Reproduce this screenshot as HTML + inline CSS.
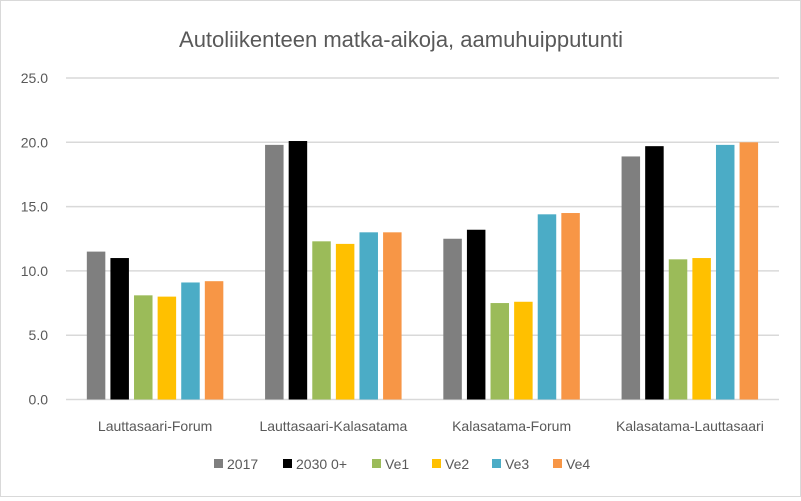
<!DOCTYPE html>
<html><head><meta charset="utf-8"><style>
body{margin:0;background:#fff;}
#c{position:relative;width:801px;height:497px;box-sizing:border-box;border:1px solid #d9d9d9;background:#fff;font-family:"Liberation Sans",sans-serif;}
</style></head><body>
<div id="c">
<svg id="svg" width="799" height="495" xmlns="http://www.w3.org/2000/svg">
<text x="400" y="46" text-anchor="middle" font-size="22" fill="#595959">Autoliikenteen matka-aikoja, aamuhuipputunti</text>
<g id="grid"></g><g id="bars"></g><g id="xlabels"></g><g id="legend"></g>
</svg>
</div>
<script>
const categories=["Lauttasaari-Forum","Lauttasaari-Kalasatama","Kalasatama-Forum","Kalasatama-Lauttasaari"];
const seriesNames=["2017","2030 0+","Ve1","Ve2","Ve3","Ve4"];
const s2017=[11.5,19.8,12.5,18.9];
const s2030=[11.0,20.1,13.2,19.7];
const sVe1=[8.1,12.3,7.5,10.9];
const sVe2=[8.0,12.1,7.6,11.0];
const sVe3=[9.1,13.0,14.4,19.8];
const sVe4=[9.2,13.0,14.5,20.0];
const ticks=["0.0","5.0","10.0","15.0","20.0","25.0"];
const series=[s2017,s2030,sVe1,sVe2,sVe3,sVe4];
const colors=["#7f7f7f","#000000","#9bbb59","#ffc000","#4bacc6","#f79646"];
const NS="http://www.w3.org/2000/svg";
const x0=65,x1=778,y0=398.5,yTop=77,ymax=25;
const yS=v=>y0-(v/ymax)*(y0-yTop);
const gw=(x1-x0)/categories.length;
function mk(t,a,p){const e=document.createElementNS(NS,t);for(const k in a)e.setAttribute(k,a[k]);p.appendChild(e);return e;}
const grid=document.getElementById('grid');
ticks.forEach((t,i)=>{const v=parseFloat(t);const y=yS(v);
const l=mk('line',{x1:x0,x2:x1,y1:y,y2:y,stroke:'#d9d9d9','stroke-width':1.5},grid);


const tx=mk('text',{x:47,y:y+5,'text-anchor':'end','font-size':14,fill:'#595959'},grid);tx.textContent=t;

});
const bars=document.getElementById('bars');
const pitch=23.6,bw=18.5;
categories.forEach((c,ci)=>{const gs=x0+ci*gw+(gw-pitch*6+5)/2;
series.forEach((s,si)=>{const x=gs+si*pitch;const y=yS(s[ci]);
const r=mk('rect',{x:x,y:y,width:bw,height:y0-y,fill:colors[si]},bars);

});
const t=mk('text',{x:x0+ci*gw+gw/2,y:430,'text-anchor':'middle','font-size':14,fill:'#595959'},document.getElementById('xlabels'));t.textContent=c;

});
const lg=document.getElementById('legend');
const lx=[213,282,371,431,491,552];
seriesNames.forEach((n,i)=>{const g=mk('g',{},lg);


mk('rect',{x:lx[i],y:458,width:9,height:9,fill:colors[i]},g);
const t=mk('text',{x:lx[i]+13,y:468,'font-size':14,fill:'#595959'},g);t.textContent=n;});
</script>
</body></html>
